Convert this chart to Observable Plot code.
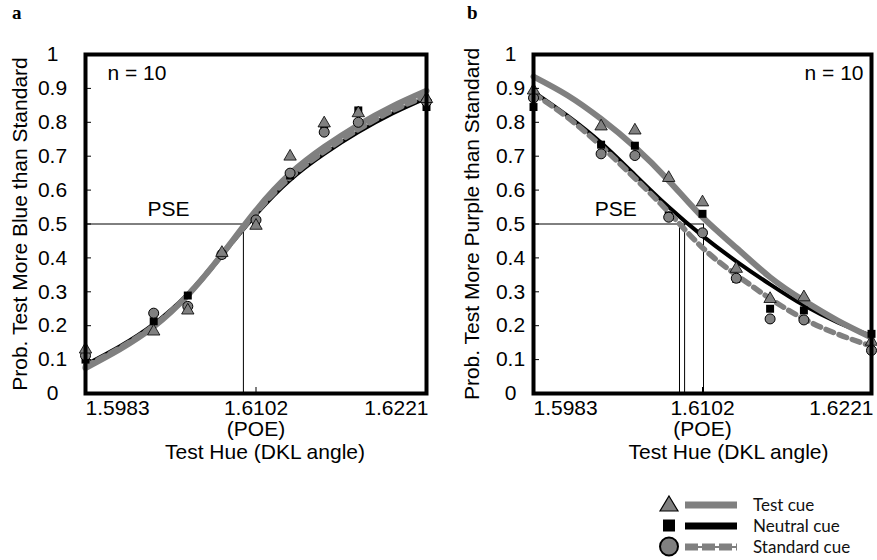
<!DOCTYPE html>
<html><head><meta charset="utf-8">
<script src="https://cdn.jsdelivr.net/npm/d3@7"></script>
<script src="https://cdn.jsdelivr.net/npm/@observablehq/plot@0.6"></script>
<style>
body{margin:0;background:#fff;}
#wrap{position:relative;width:877px;height:560px;overflow:hidden;font-family:"Liberation Sans",Arial,sans-serif;}
.panel{position:absolute;top:0;}
.letter{position:absolute;z-index:5;font-family:"Liberation Serif",serif;font-weight:bold;font-size:19px;line-height:1;}
#legend{position:absolute;left:655px;top:494px;font-family:Lato,sans-serif;font-size:17px;color:#111;}
.row{display:flex;align-items:center;height:21px;}
.row svg{flex:none;}
</style></head><body>
<div id="wrap">
  <div id="pa" class="panel" style="left:0px;"></div>
  <div id="pb" class="panel" style="left:440px;"></div>
  <div class="letter" style="left:12px;top:3px;">a</div>
  <div class="letter" style="left:467px;top:3px;">b</div>
  <div id="legend"></div>
</div>
<script>
// ---- shared axes ----
const xTicks = [1.5983, 1.6102, 1.6221];
const xTickLabels = ["1.5983", "1.6102", "1.6221"];
const poeLabel = "(POE)";
const yTicks = [0, 0.1, 0.2, 0.3, 0.4, 0.5, 0.6, 0.7, 0.8, 0.9, 1];
const yTickLabels = ["0", "0.1", "0.2", "0.3", "0.4", "0.5", "0.6", "0.7", "0.8", "0.9", "1"];
const xTitle = "Test Hue (DKL angle)";
const nLabel = "n = 10";
const pseLabel = "PSE";
const pseLabelX = 1.6041;

// stimulus levels (data points) and fitted-curve sample positions
const stimX = [1.5983, 1.60306, 1.60544, 1.60782, 1.6102, 1.61258, 1.61496, 1.61734, 1.6221];
const curveX = [1.5983, 1.60068, 1.60306, 1.60544, 1.60782, 1.6102, 1.61258, 1.61496, 1.61734, 1.61972, 1.6221];

// ---- panel a ----
const aYTitle = "Prob. Test More Blue than Standard";
const aTest     = [0.13, 0.183, 0.245, 0.415, 0.495, 0.699, 0.797, 0.827, 0.869];
const aNeutral  = [0.10, 0.213, 0.289, 0.41, 0.505, 0.643, 0.775, 0.835, 0.845];
const aStandard = [0.112, 0.237, 0.257, 0.41, 0.512, 0.65, 0.771, 0.80, 0.861];
const aFitTest     = [0.075, 0.13, 0.197, 0.29, 0.41, 0.54, 0.648, 0.727, 0.792, 0.847, 0.893];
const aFitNeutral  = [0.085, 0.139, 0.205, 0.294, 0.408, 0.528, 0.63, 0.707, 0.771, 0.826, 0.872];
const aFitStandard = [0.08, 0.134, 0.2, 0.291, 0.409, 0.533, 0.637, 0.714, 0.779, 0.834, 0.878];
const aPSE = [1.60932];

// ---- panel b ----
const bYTitle = "Prob. Test More Purple than Standard";
const bTest     = [0.894, 0.788, 0.776, 0.636, 0.564, 0.368, 0.279, 0.284, 0.153];
const bNeutral  = [0.845, 0.734, 0.731, 0.525, 0.53, 0.338, 0.25, 0.245, 0.176];
const bStandard = [0.872, 0.707, 0.702, 0.52, 0.474, 0.34, 0.22, 0.217, 0.127];
const bFitTest     = [0.935, 0.88, 0.81, 0.727, 0.628, 0.52, 0.43, 0.343, 0.274, 0.215, 0.165];
const bFitNeutral  = [0.89, 0.82, 0.74, 0.645, 0.55, 0.465, 0.39, 0.322, 0.26, 0.21, 0.17];
const bFitStandard = [0.885, 0.815, 0.73, 0.635, 0.535, 0.43, 0.35, 0.28, 0.22, 0.175, 0.14];
const bPSE = [1.60858, 1.60894, 1.61027];

// legend
const legendLabels = ["Test cue", "Neutral cue", "Standard cue"];

const GRAY = "#808080";

function panel(cfg) {
  const pts = (ys) => stimX.map((x, i) => ({x, y: ys[i]}));
  const crv = (ys) => curveX.map((x, i) => ({x, y: ys[i]}));
  const fmtX = d => xTickLabels[xTicks.indexOf(d)];
  return Plot.plot({
    width: cfg.width, height: 470,
    marginLeft: cfg.ml, marginRight: cfg.mr, marginTop: 54, marginBottom: 77,
    style: {fontFamily: "Liberation Sans, Arial, sans-serif", fontSize: "21px", color: "#000", background: "white", overflow: "visible"},
    x: {domain: [xTicks[0], xTicks[2]], label: null},
    y: {domain: [0, 1], label: null},
    marks: [
      // PSE construction lines
      Plot.ruleY([0.5], {x1: xTicks[0], x2: d3.max(cfg.pse), stroke: "black", strokeWidth: 1}),
      Plot.ruleX(cfg.pse, {y1: 0, y2: 0.5, stroke: "black", strokeWidth: 1}),
      // fitted curves
      Plot.line(crv(cfg.fitN), {x: "x", y: "y", curve: "natural", stroke: "black", strokeWidth: 4}),
      Plot.line(crv(cfg.fitS), {x: "x", y: "y", curve: "natural", stroke: GRAY, strokeWidth: 5.5, strokeDasharray: "8,6"}),
      Plot.line(crv(cfg.fitT), {x: "x", y: "y", curve: "natural", stroke: GRAY, strokeWidth: 6}),
      // data points
      Plot.dot(pts(cfg.neutral), {x: "x", y: "y", symbol: "square", r: 4.5, fill: "black", stroke: "none"}),
      Plot.dot(pts(cfg.standard), {x: "x", y: "y", symbol: "circle", r: 5, fill: GRAY, stroke: "black", strokeWidth: 1}),
      Plot.dot(pts(cfg.test), {x: "x", y: "y", symbol: "triangle", r: 4.6, fill: GRAY, stroke: "black", strokeWidth: 0.8}),
      // frame and axes
      Plot.frame({stroke: "black", strokeWidth: 4}),
      Plot.axisY({ticks: yTicks, tickSize: 6, dx: 6, fill: "none", label: null}),
      Plot.axisY({ticks: yTicks, tickSize: 0, tickPadding: cfg.yPad, textAnchor: "middle", tickFormat: d => yTickLabels[yTicks.indexOf(d)], label: null}),
      Plot.axisX({ticks: [xTicks[1]], tickSize: 6, dy: -6, fill: "none", label: null}),
      Plot.axisX({ticks: [xTicks[0]], tickSize: 0, tickPadding: 7, textAnchor: "start", dx: 0, tickFormat: fmtX, label: null}),
      Plot.axisX({ticks: [xTicks[1]], tickSize: 0, tickPadding: 7, textAnchor: "middle", tickFormat: fmtX, label: null}),
      Plot.axisX({ticks: [xTicks[2]], tickSize: 0, tickPadding: 7, textAnchor: "end", dx: 2, tickFormat: fmtX, label: null}),
      // annotations
      Plot.text([poeLabel], {x: [xTicks[1]], frameAnchor: "bottom", dy: 36, text: d => d, lineAnchor: "middle"}),
      Plot.text([xTitle], {frameAnchor: "bottom", dx: cfg.xTitleDx, dy: 59, text: d => d, lineAnchor: "middle"}),
      Plot.text([cfg.yTitle], {frameAnchor: "left", rotate: -90, dx: cfg.yTitleDx, text: d => d, textAnchor: "middle", lineAnchor: "middle"}),
      Plot.text([pseLabel], {x: [pseLabelX], y: [0.5], dy: -15, text: d => d, lineAnchor: "middle"}),
      Plot.text([nLabel], cfg.nRight
        ? {frameAnchor: "top-right", dx: -8, dy: 19, textAnchor: "end", text: d => d, lineAnchor: "middle"}
        : {frameAnchor: "top-left", dx: 22, dy: 19, textAnchor: "start", text: d => d, lineAnchor: "middle"})
    ]
  });
}

document.getElementById("pa").appendChild(panel({
  width: 440, ml: 85, mr: 14, yPad: 33, yTitle: aYTitle, yTitleDx: -65, xTitleDx: 9,
  test: aTest, neutral: aNeutral, standard: aStandard,
  fitT: aFitTest, fitN: aFitNeutral, fitS: aFitStandard, pse: aPSE, nRight: false
}));
document.getElementById("pb").appendChild(panel({
  width: 437, ml: 93, mr: 6, yPad: 23, yTitle: bYTitle, yTitleDx: -61, xTitleDx: 26,
  test: bTest, neutral: bNeutral, standard: bStandard,
  fitT: bFitTest, fitN: bFitNeutral, fitS: bFitStandard, pse: bPSE, nRight: true
}));

// legend
const legendSymbols = [
  '<polygon points="14,2 23,17 5,17" fill="' + GRAY + '" stroke="black" stroke-width="1.2"/>' +
  '<rect x="30" y="7.5" width="52" height="7" fill="' + GRAY + '"/>',
  '<rect x="8" y="4.5" width="12" height="12" fill="black"/>' +
  '<rect x="30" y="7.5" width="52" height="7" fill="black"/>',
  '<circle cx="14" cy="10.5" r="9" fill="' + GRAY + '" stroke="black" stroke-width="2"/>' +
  '<line x1="30" x2="82" y1="11" y2="11" stroke="' + GRAY + '" stroke-width="2"/>' +
  '<line x1="30" x2="82" y1="11" y2="11" stroke="' + GRAY + '" stroke-width="7" stroke-dasharray="13,4"/>'
];
const leg = document.getElementById("legend");
legendLabels.forEach((lab, i) => {
  const row = document.createElement("div");
  row.className = "row";
  row.innerHTML = '<svg width="98" height="21">' + legendSymbols[i] + '</svg><span>' + lab + '</span>';
  leg.appendChild(row);
});
</script>
</body></html>
